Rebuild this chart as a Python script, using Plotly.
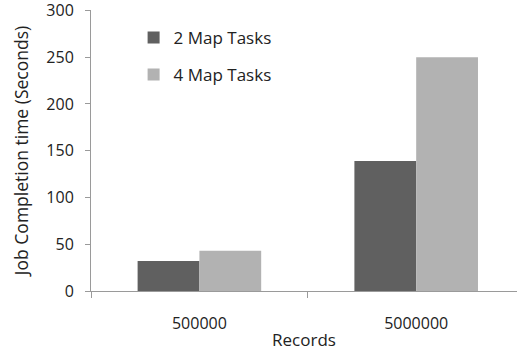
import plotly.graph_objects as go

# Job completion time by number of records, for two map-task settings
records = ["500000", "5000000"]
map2_seconds = [32, 139]
map4_seconds = [43, 250]
series_names = ["2 Map Tasks", "4 Map Tasks"]
y_ticks = [0, 50, 100, 150, 200, 250, 300]

FONT = "Open Sans"
AXIS_GREY = "#9a9a9a"
TEXT = "#222222"

fig = go.Figure()
fig.add_trace(go.Bar(x=records, y=map2_seconds, name=series_names[0],
                     marker=dict(color="#606060", line=dict(width=0)),
                     legendgroup="a"))
fig.add_trace(go.Bar(x=records, y=map4_seconds, name=series_names[1],
                     marker=dict(color="#b2b2b2", line=dict(width=0)),
                     legendgroup="b"))

fig.update_layout(
    width=517, height=351,
    margin=dict(l=91, r=0, t=9.5, b=59.5),
    paper_bgcolor="white", plot_bgcolor="white",
    barmode="group", bargap=0.43, bargroupgap=0,
    font=dict(family=FONT, size=15, color=TEXT),
    showlegend=True,
    legend=dict(x=0.1, y=0.965, xanchor="left", yanchor="top",
                bgcolor="rgba(0,0,0,0)", tracegroupgap=12,
                font=dict(family=FONT, size=17, color=TEXT),
                itemwidth=30),
    xaxis=dict(
        type="category", range=[-0.5, 1.465],
        showline=True, linecolor=AXIS_GREY, linewidth=1,
        ticks="outside", tickson="boundaries", ticklen=6, tickcolor=AXIS_GREY,
        showgrid=False, zeroline=False,
        ticklabelstandoff=18,
        tickfont=dict(family=FONT, size=16, color=TEXT),
        title=dict(text="Records", font=dict(family=FONT, size=17, color=TEXT),
                   standoff=0),
    ),
    yaxis=dict(
        range=[0, 300.5], tickvals=y_ticks,
        showline=True, linecolor=AXIS_GREY, linewidth=1,
        ticks="outside", ticklen=5, tickcolor=AXIS_GREY,
        showgrid=False, zeroline=False,
        ticklabelstandoff=8, ticklabeloverflow="allow",
        tickfont=dict(family=FONT, size=16, color=TEXT),
        title=dict(text="Job Completion time (Seconds)",
                   font=dict(family=FONT, size=17.5, color=TEXT), standoff=13),
    ),
)

fig.write_html("out.html")
